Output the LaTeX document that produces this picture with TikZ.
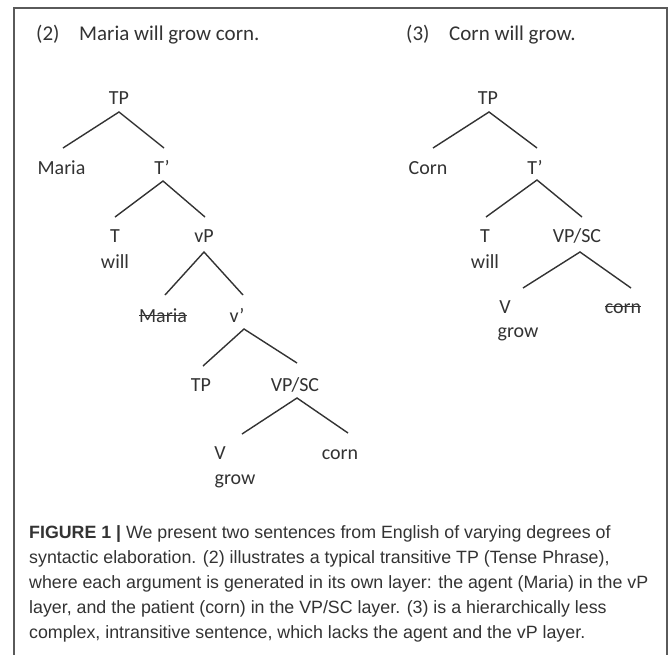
\documentclass[tikz,border=0pt]{standalone}
\usepackage{fontspec}
\setmainfont{Carlito}
\newfontfamily\capfont{Liberation Sans}
\newcommand\mystrike[1]{\setbox0\hbox{#1}\rlap{\vrule width\wd0 height 7.3pt depth -6pt}\box0}
\definecolor{ink}{HTML}{333333}
\definecolor{framec}{HTML}{5A5A5A}
\begin{document}
\begin{tikzpicture}[x=1pt,y=-1pt,
  lab/.style={inner sep=0pt,anchor=base,text=ink,font=\fontsize{20}{24}\selectfont},
  head/.style={inner sep=0pt,anchor=base west,text=ink,font=\fontsize{21}{25}\selectfont},
  branch/.style={draw=ink,line width=1.4pt},
  captext/.style={inner sep=0pt,anchor=base west,text=ink,font=\capfont\fontsize{17.8}{25}\selectfont}]
\useasboundingbox (0,0) rectangle (669,654);
\fill[white] (0,0) rectangle (669,654);
\draw[framec,line width=1.3pt] (14,660) -- (14,8) -- (667,8) -- (667,660);
% headings
\node[head] (h2) at (36,40) {\makebox[43pt][l]{(2)}Maria will grow corn.};
\node[head] (h3) at (406,40) {\makebox[43pt][l]{(3)}Corn will grow.};
% left tree
\node[lab] (LTP) at (119,104) {TP};
\node[lab] (LMaria) at (61.5,174) {Maria};
\node[lab] (LT1) at (162,174) {T’};
\node[lab] (LT) at (115,242) {T};
\node[lab] (Lwill) at (115,268) {will};
\node[lab] (LvP) at (204,242) {vP};
\node[lab] (LMariaS) at (163,322) {\mystrike{Maria}};
\node[lab] (Lv1) at (237,322) {v’};
\node[lab] (LTP2) at (201,391) {TP};
\node[lab] (LVPSC) at (295,391) {VP/SC};
\node[lab] (LV) at (220,459) {V};
\node[lab] (Lgrow) at (235,484) {grow};
\node[lab] (Lcorn) at (340,459) {corn};
% right tree
\node[lab] (RTP) at (488,104) {TP};
\node[lab] (RCorn) at (428,174) {Corn};
\node[lab] (RT1) at (535,174) {T’};
\node[lab] (RT) at (485,242) {T};
\node[lab] (Rwill) at (485,268) {will};
\node[lab] (RVPSC) at (577,242) {VP/SC};
\node[lab] (RV) at (505,313) {V};
\node[lab] (Rgrow) at (518,337) {grow};
\node[lab] (Rcorn) at (623,313) {\mystrike{corn}};
% left branches
\draw[branch] ([xshift=1.5pt,yshift=26pt]LMaria.base) -- ([yshift=-8pt]LTP.base) -- ([xshift=2pt,yshift=26pt]LT1.base);
\draw[branch] ([yshift=25pt]LT.base) -- ([xshift=1pt,yshift=-7pt]LT1.base) -- ([xshift=1pt,yshift=25pt]LvP.base);
\draw[branch] ([xshift=2pt,yshift=27pt]LMariaS.base) -- ([yshift=-10pt]LvP.base) -- ([xshift=6pt,yshift=27pt]Lv1.base);
\draw[branch] ([xshift=2pt,yshift=25pt]LTP2.base) -- ([xshift=7pt,yshift=-7pt]Lv1.base) -- ([xshift=2pt,yshift=28pt]LVPSC.base);
\draw[branch] ([xshift=22pt,yshift=25pt]LV.base) -- ([xshift=2pt,yshift=-7pt]LVPSC.base) -- ([xshift=8pt,yshift=26pt]Lcorn.base);
% right branches
\draw[branch] ([xshift=5pt,yshift=26pt]RCorn.base) -- ([xshift=1pt,yshift=-8pt]RTP.base) -- ([xshift=2pt,yshift=26pt]RT1.base);
\draw[branch] ([xshift=1pt,yshift=25pt]RT.base) -- ([xshift=2pt,yshift=-6pt]RT1.base) -- ([xshift=5pt,yshift=25pt]RVPSC.base);
\draw[branch] ([xshift=18pt,yshift=25pt]RV.base) -- ([xshift=3pt,yshift=-10pt]RVPSC.base) -- ([xshift=8pt,yshift=25pt]Rcorn.base);
% caption
\node[captext] (caption) at (29,538) {\vtop{\baselineskip=25pt
\hbox{\textbf{FIGURE 1 |} We present two sentences from English of varying degrees of}
\hbox{syntactic elaboration. (2) illustrates a typical transitive TP (Tense Phrase),}
\hbox{where each argument is generated in its own layer: the agent (Maria) in the vP}
\hbox{layer, and the patient (corn) in the VP/SC layer. (3) is a hierarchically less}
\hbox{complex, intransitive sentence, which lacks the agent and the vP layer.}}};
\end{tikzpicture}
\end{document}
